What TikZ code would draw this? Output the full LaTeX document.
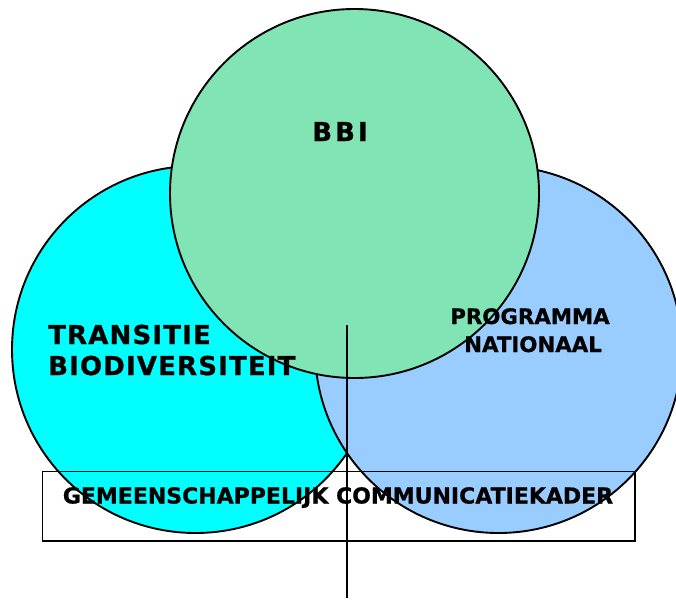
\documentclass[tikz,border=0pt]{standalone}
\usepackage{fontspec}
\setmainfont{DejaVu Sans}
\definecolor{cyanfill}{RGB}{0,255,255}
\definecolor{bluefill}{RGB}{153,204,255}
\definecolor{greenfill}{RGB}{128,228,180}
\begin{document}
\begin{tikzpicture}[x=1pt,y=-1pt,
  venn/.style={circle, draw=black, line width=1.9pt, inner sep=0pt},
  lbl/.style={inner sep=0pt, text=black},
  bigfont/.style={font=\fontsize{26}{31}\selectfont\bfseries\addfontfeature{LetterSpace=4.5,FakeBold=0.8}},
  bbifont/.style={font=\fontsize{26}{31}\selectfont\bfseries\addfontfeature{LetterSpace=12,FakeBold=0.8}},
  midfont/.style={font=\fontsize{21.3}{26}\selectfont\bfseries\addfontfeature{FakeBold=0.8}},
  kadfont/.style={font=\fontsize{22}{26}\selectfont\bfseries\addfontfeature{FakeBold=0.8}},
  frame/.style={draw=black, line width=1.9pt},
  rule/.style={draw=black, line width=1.9pt}]
\useasboundingbox (0,0) rectangle (676,599);
\clip (0,0) rectangle (676,599);
\node[venn, fill=cyanfill, minimum size=367pt] (transitie) at (195.5,349.5) {};
\node[venn, fill=bluefill, minimum size=367pt] (programma) at (498.5,349.5) {};
\node[venn, fill=greenfill, minimum size=369pt] (bbi) at (354.5,193.5) {};
\node[lbl, bbifont, anchor=base] (bbitxt) at (340,141) {BBI};
\node[lbl, bigfont, anchor=base west] (tr1) at (48,344) {TRANSITIE};
\node[lbl, bigfont, anchor=base west] (tr2) at (48,375) {BIODIVERSITEIT};
\node[lbl, midfont, anchor=base] (pr1) at (530,324) {PROGRAMMA};
\node[lbl, midfont, anchor=base] (pr2) at (533,352) {NATIONAAL};
\node[frame, minimum width=592.5pt, minimum height=69.5pt, inner sep=0pt] (kader) at (338.75,506.25) {};
\node[lbl, kadfont, anchor=base] (kadertxt) at (338,503.5) {GEMEENSCHAPPELIJK COMMUNICATIEKADER};
\coordinate (ltop) at (347,325);
\coordinate (lbot) at (347,598);
\draw[rule] (ltop) -- (lbot);
\end{tikzpicture}
\end{document}
